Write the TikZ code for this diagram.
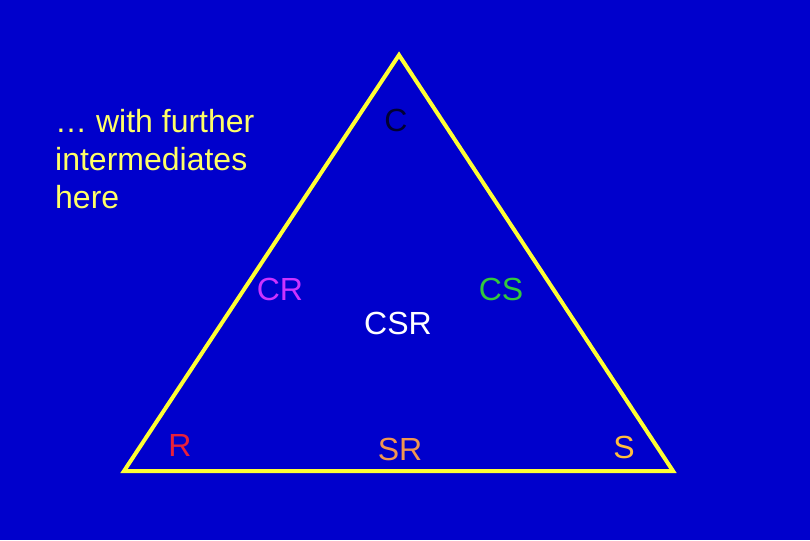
\documentclass[tikz,border=0pt]{standalone}
\usepackage{fontspec}
\setmainfont{Liberation Sans}
\usepackage{tikz}
\usetikzlibrary{positioning,calc}

\definecolor{slideblue}{RGB}{0,0,204}
\definecolor{edgeyellow}{RGB}{255,255,51}
\definecolor{noteyellow}{RGB}{255,255,102}
\definecolor{cnavy}{RGB}{0,0,51}
\definecolor{rred}{RGB}{232,32,58}
\definecolor{crviolet}{RGB}{204,51,255}
\definecolor{csgreen}{RGB}{51,200,60}
\definecolor{srorange}{RGB}{240,150,80}
\definecolor{sgold}{RGB}{255,190,60}

\begin{document}
\begin{tikzpicture}[x=1pt, y=-1pt, every node/.style={font=\fontsize{32}{38}\selectfont, inner sep=0pt}]
    \fill [slideblue] (0,0) rectangle (810,540);
    \useasboundingbox (0,0) rectangle (810,540);

    % corners of the triangle
    \coordinate (top) at (399,55);
    \coordinate (left) at (124,471);
    \coordinate (right) at (673,471);
    \draw [edgeyellow, line width=4pt, line join=miter] (top) -- (left) -- (right) -- cycle;

    \node [text=cnavy] (c) at (396,120) {C};
    \node [text=rred] (r) at (180,445) {R};
    \node [text=sgold] (s) at (624,447) {S};
    \node [text=crviolet] (cr) at (280,289) {CR};
    \node [text=csgreen] (cs) at (501,289) {CS};
    \node [text=white] (csr) at (398,323) {CSR};
    \node [text=srorange] (sr) at (400,449) {SR};

    \node [text=noteyellow, anchor=west, align=left] (note) at (55,159) {\dots{} with further\\intermediates\\here};
\end{tikzpicture}
\end{document}
